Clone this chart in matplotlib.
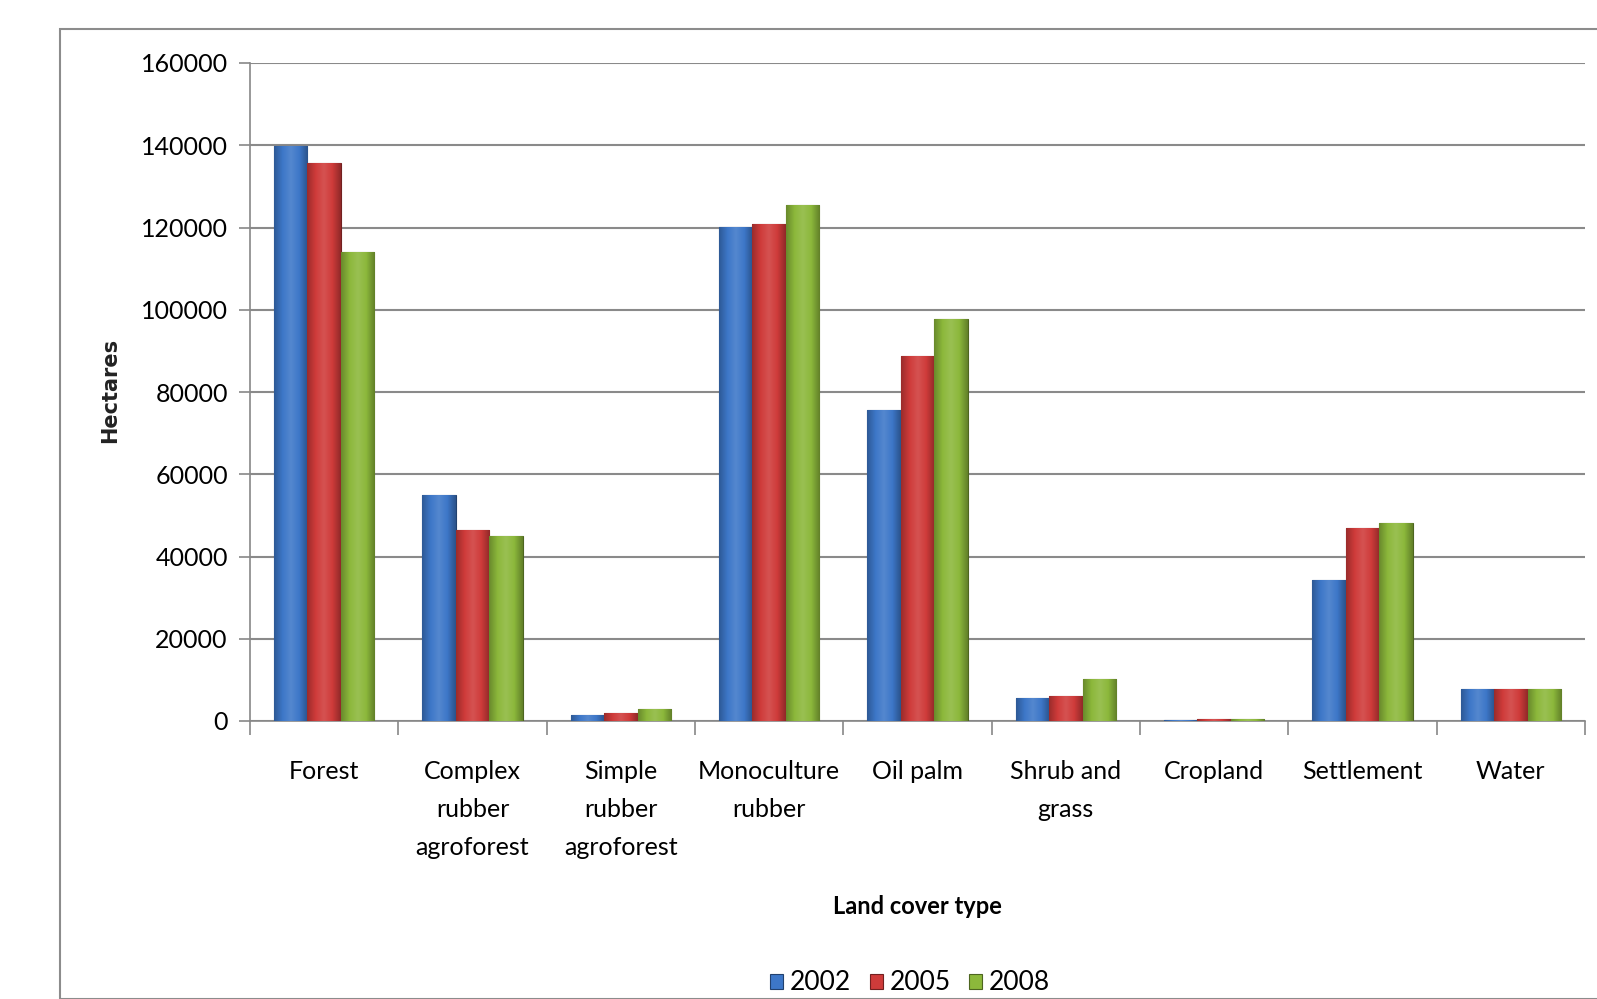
import numpy as np
import matplotlib.pyplot as plt
from matplotlib.colors import LinearSegmentedColormap, to_rgb
from matplotlib.patches import Rectangle

categories = ["Forest", "Complex\nrubber\nagroforest", "Simple\nrubber\nagroforest",
              "Monoculture\nrubber", "Oil palm", "Shrub and\ngrass", "Cropland",
              "Settlement", "Water"]
years = ["2002", "2005", "2008"]
ha_2002 = [139800, 54900, 1500, 120200, 75700, 5700, 300, 34400, 7900]
ha_2005 = [135800, 46500, 2000, 120900, 88800, 6100, 500, 47000, 7900]
ha_2008 = [114100, 45000, 3000, 125400, 97700, 10100, 400, 48200, 7900]
yticks = [0, 20000, 40000, 60000, 80000, 100000, 120000, 140000, 160000]

colors = ["#3d77c8", "#cf3b3a", "#8cb83b"]
font = ["Lato", "DejaVu Sans"]


def shade(c, f):
    r = np.array(to_rgb(c))
    if f < 1:
        return tuple(r * f)
    return tuple(r + (1 - r) * (f - 1))


fig = plt.figure(figsize=(15.97, 9.99), dpi=100)
# outer chart border
fig.patches.append(Rectangle((60 / 1597, 0), 1.0, 1 - 29 / 999, transform=fig.transFigure,
                             fill=False, edgecolor="#8c8c8c", linewidth=1.5, zorder=0))
ax = fig.add_axes([250 / 1597, 1 - 721 / 999, 1335 / 1597, 658 / 999])

x = np.arange(len(categories))
w = 0.225
series = [ha_2002, ha_2005, ha_2008]
for i, (vals, col, yr) in enumerate(zip(series, colors, years)):
    bars = ax.bar(x + (i - 1) * w, vals, w, color=col, edgecolor=shade(col, 0.55),
                  linewidth=0.8, label=yr, zorder=3)
    cmap = LinearSegmentedColormap.from_list(
        "g", [shade(col, 0.75), shade(col, 1.0), shade(col, 1.12), shade(col, 1.0), shade(col, 0.7)])
    grad = np.linspace(0, 1, 64).reshape(1, -1)
    for b in bars:
        bx, by = b.get_x(), b.get_y()
        bw, bh = b.get_width(), b.get_height()
        im = ax.imshow(grad, cmap=cmap, aspect="auto", extent=[bx, bx + bw, by, by + bh],
                       zorder=3.5)
        im.set_clip_path(b)

ax.set_xlim(-0.5, len(categories) - 0.5)
ax.set_ylim(0, 160000)
ax.set_yticks(yticks)
ax.set_yticklabels([str(v) for v in yticks], fontsize=18, family=font)
ax.set_xticks(np.arange(len(categories) + 1) - 0.5)
ax.set_xticklabels([])
ax.set_xticks(x, minor=True)
ax.set_xticklabels(categories, minor=True, fontsize=18, family=font, linespacing=1.78)
ax.tick_params(axis="x", which="minor", length=0, pad=28)
ax.tick_params(axis="x", which="major", length=10, color="#888888", width=1.2)
ax.tick_params(axis="y", length=8, color="#888888", width=1.2, pad=8)
for lab in ax.get_xticklabels(minor=True):
    lab.set_verticalalignment("top")

ax.grid(axis="y", color="#8a8a8a", linewidth=1.5, zorder=0)
for s in ["top", "right"]:
    ax.spines[s].set_visible(False)
for s in ["left", "bottom"]:
    ax.spines[s].set_color("#888888")
    ax.spines[s].set_linewidth(1.2)

fig.text(110 / 1597, 1 - 390 / 999, "Hectares", rotation=90, fontsize=15, fontweight="bold",
         ha="center", va="center", family="DejaVu Sans", color="#222222")
fig.text(917 / 1597, 1 - 906 / 999, "Land cover type", fontsize=17, fontweight="bold",
         ha="center", va="center", family=font)
fig.legend(loc="center", bbox_to_anchor=(910 / 1597, 1 - 983 / 999), ncol=3, frameon=False,
           prop={"family": font, "size": 19}, handlelength=0.5, handleheight=0.5,
           handletextpad=0.25, columnspacing=0.7)

fig.savefig("out.png", dpi=100)
